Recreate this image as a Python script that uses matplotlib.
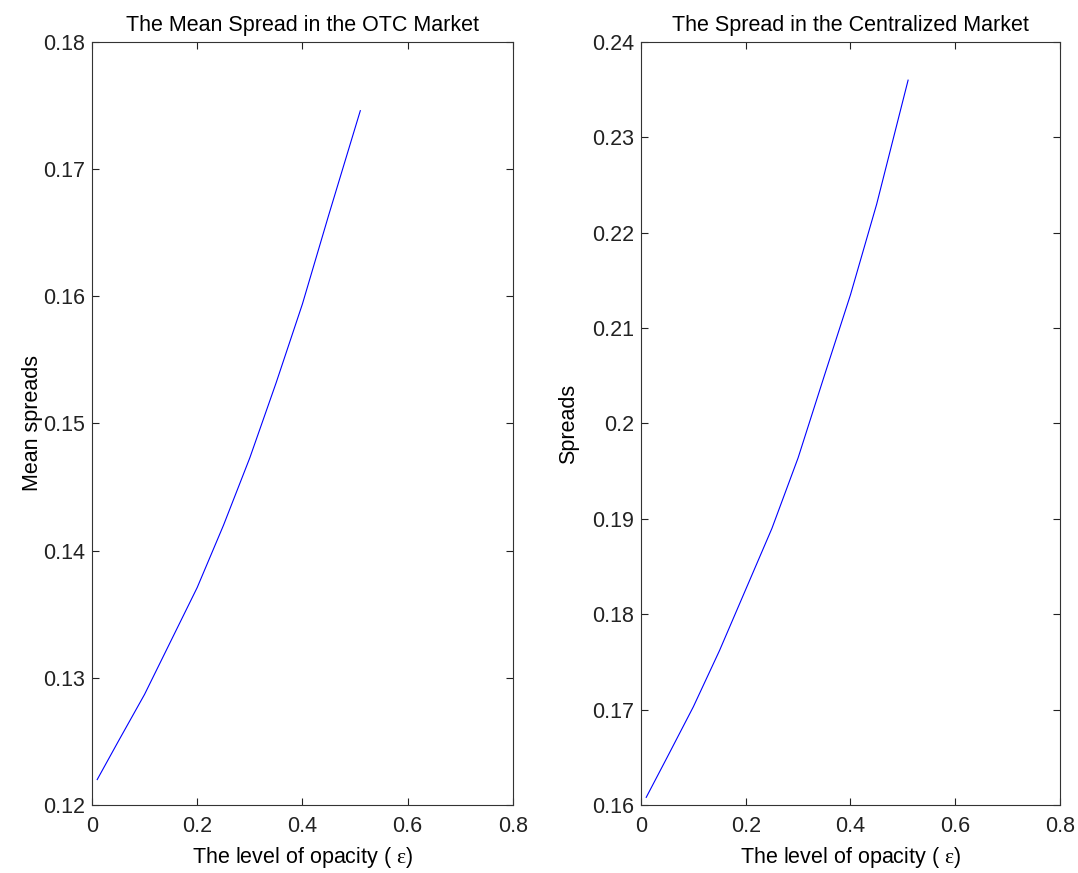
import matplotlib
matplotlib.use("Agg")
import matplotlib.pyplot as plt

plt.rcParams["font.family"] = ["Liberation Sans", "DejaVu Sans"]
plt.rcParams["mathtext.fontset"] = "custom"
plt.rcParams["mathtext.rm"] = "Liberation Serif"
plt.rcParams["mathtext.it"] = "Liberation Serif"

# opacity levels
opacity = [0.01, 0.05, 0.10, 0.15, 0.20, 0.25, 0.30, 0.35, 0.40, 0.45, 0.51]
# mean spread in the OTC market
otc_spread = [0.1220, 0.1250, 0.1287, 0.1329, 0.1371, 0.1420, 0.1473, 0.1532, 0.1594, 0.1664, 0.1746]
# spread in the centralized market
central_spread = [0.1608, 0.1650, 0.1703, 0.1762, 0.1826, 0.1890, 0.1964, 0.2050, 0.2135, 0.2230, 0.2360]

xticks = [0, 0.2, 0.4, 0.6, 0.8]
xlabels = ["0", "0.2", "0.4", "0.6", "0.8"]
otc_yticks = [0.12, 0.13, 0.14, 0.15, 0.16, 0.17, 0.18]
otc_ylabels = ["0.12", "0.13", "0.14", "0.15", "0.16", "0.17", "0.18"]
central_yticks = [0.16, 0.17, 0.18, 0.19, 0.2, 0.21, 0.22, 0.23, 0.24]
central_ylabels = ["0.16", "0.17", "0.18", "0.19", "0.2", "0.21", "0.22", "0.23", "0.24"]

fig = plt.figure(figsize=(10.78, 8.73), dpi=100)
ax1 = fig.add_axes([0.0853, 0.0779, 0.3905, 0.874])
ax2 = fig.add_axes([0.5946, 0.0779, 0.3887, 0.874])

panels = [
    (ax1, otc_spread, otc_yticks, otc_ylabels, "The Mean Spread in the OTC Market", "Mean spreads", 0),
    (ax2, central_spread, central_yticks, central_ylabels, "The Spread in the Centralized Market", "Spreads", 9),
]

FS = 15.5
for ax, ys, yt, yl, title, ylabel, lpad in panels:
    ax.plot(opacity, ys, color="#0000ff", linewidth=0.8)
    ax.set_xlim(0, 0.8)
    ax.set_ylim(yt[0], yt[-1])
    ax.set_xticks(xticks)
    ax.set_xticklabels(xlabels)
    ax.set_yticks(yt)
    ax.set_yticklabels(yl)
    ax.tick_params(direction="in", length=5, width=0.8, top=True, right=True,
                   labelsize=FS, colors="#222222")
    ax.tick_params(axis="x", pad=8)
    ax.tick_params(axis="y", pad=5)
    for s in ax.spines.values():
        s.set_linewidth(0.8)
        s.set_color("#333333")
    ax.set_title(title, fontsize=FS, pad=8)
    ax.set_ylabel(ylabel, fontsize=FS, labelpad=lpad)
    ax.set_xlabel(r"The level of opacity ( $\mathrm{\varepsilon}$)", fontsize=FS, labelpad=6)

fig.savefig("out.png", dpi=100)
